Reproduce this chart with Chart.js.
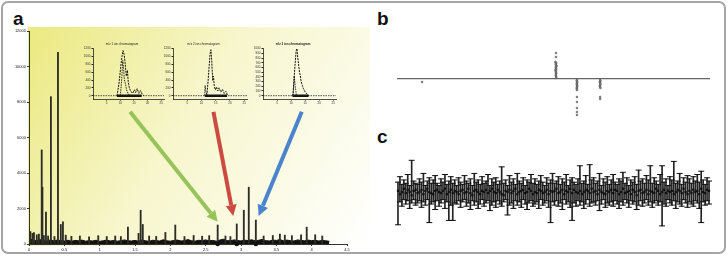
<!DOCTYPE html>
<html>
<head>
<meta charset="utf-8">
<script src="https://cdn.jsdelivr.net/npm/chart.js@4.4.0/dist/chart.umd.min.js"></script>
<style>
  html, body { margin: 0; padding: 0; background: #fff; }
  body { width: 728px; height: 256px; position: relative; overflow: hidden; font-family: 'Liberation Sans', Arial, sans-serif; }
  .frame { position: absolute; left: 1px; top: 1px; width: 721px; height: 249px; border: 2px solid #a5a5a5; border-radius: 7px; }
  .lbl { position: absolute; font-weight: bold; font-size: 19px; line-height: 1; color: #111; }
  canvas { position: absolute; }
</style>
</head>
<body>
<div class="frame"></div>
<div class="lbl" style="left:13px;top:9px">a</div>
<div class="lbl" style="left:377px;top:9px">b</div>
<div class="lbl" style="left:377px;top:127px">c</div>
<canvas id="spec" width="380" height="231" style="left:0;top:25px"></canvas>
<canvas id="in1" width="90" height="69" style="left:80px;top:38px"></canvas>
<canvas id="in2" width="93" height="69" style="left:160px;top:38px"></canvas>
<canvas id="in3" width="92" height="69" style="left:250px;top:38px"></canvas>
<canvas id="panelB" width="340" height="100" style="left:380px;top:30px"></canvas>
<canvas id="panelC" width="340" height="112" style="left:380px;top:135px"></canvas>
<script>
Chart.defaults.font.family = "'Liberation Sans', Arial, sans-serif";
Chart.defaults.animation = false;

// ---- panel a: spectrum ----
const specXTicks = [0, 0.5, 1, 1.5, 2, 2.5, 3, 3.5, 4, 4.5];
const specYTicks = [0, 2000, 4000, 6000, 8000, 10000, 12000];
const spikeX = [0, 0.02, 0.05, 0.07, 0.11, 0.14, 0.18, 0.19, 0.21, 0.24, 0.27, 0.31, 0.36, 0.41, 0.45, 0.48, 0.52, 0.6, 0.72, 0.85, 0.98, 1.1, 1.22, 1.3, 1.4, 1.55, 1.58, 1.61, 1.7, 1.8, 1.93, 2.07, 2.2, 2.33, 2.45, 2.55, 2.67, 2.78, 2.85, 2.94, 3.04, 3.11, 3.21, 3.32, 3.45, 3.55, 3.62, 3.72, 3.85, 3.93, 4.05, 4.15];
const spikeY = [960, 700, 600, 650, 520, 560, 5300, 3200, 480, 1800, 450, 8300, 420, 10800, 1100, 1250, 500, 430, 450, 400, 470, 420, 450, 420, 950, 600, 1900, 1100, 450, 430, 650, 1070, 420, 480, 440, 470, 1070, 450, 420, 1130, 1900, 3200, 1350, 450, 480, 560, 500, 470, 520, 950, 520, 450];
const noiseStep = 0.05;
const noiseY = [330, 220, 180, 250, 200, 160, 230, 180, 220, 190,
                170, 210, 150, 200, 180, 220, 160, 190, 170, 210,
                150, 180, 220, 170, 200, 160, 190, 230, 180, 170,
                200, 160, 220, 180, 150, 210, 190, 170, 240, 180,
                160, 200, 220, 170, 190, 250, 180, 160, 210, 190,
                230, 180, 200, 160, 220, 270, 190, 180, 230, 200,
                170, 220, 190, 240, 180, 210, 260, 190, 170, 220,
                200, 250, 180, 220, 190, 170, 230, 200, 180, 220,
                190, 210, 170, 200, 180, 150];
const markX = [2.67, 2.94, 3.21];
const arrowFromX = [1.43, 2.61, 3.86];
const arrowFromY = [7450, 7450, 7450];
const arrowToX = [2.67, 2.89, 3.25];
const arrowToY = [1250, 1580, 1580];
const arrowColors = ['#97c45a', '#cc4a40', '#4a84cc'];

// ---- insets ----
const insetXTicks = [500, 1000, 1500, 2000, 2500];
const inset1YTicks = [0, 200, 400, 600, 800, 1000, 1200];
const inset2YTicks = [0, 200, 400, 600, 800, 1000, 1200];
const inset3YTicks = [0, 100, 200, 300, 400, 500, 600, 700, 800, 900, 1000];
const in1X = [880, 950, 1010, 1060, 1100, 1140, 1180, 1220, 1260, 1290, 1330, 1380, 1450, 1520, 1560, 1620, 1680, 1740, 1800, 1860];
const in1Y = [0, 300, 700, 1000, 1150, 1050, 800, 500, 650, 350, 200, 120, 60, 150, 80, 180, 60, 130, 40, 0];
const in1bX = [1000, 1050, 1090, 1120, 1150, 1190, 1230, 1280, 1340];
const in1bY = [0, 400, 900, 700, 400, 300, 150, 60, 0];
const in1Base = [880, 1780];
const in2X = [1190, 1230, 1270, 1300, 1330, 1360, 1380, 1400, 1420, 1450, 1490, 1530, 1570, 1620, 1680, 1740, 1800, 1860, 1920];
const in2Y = [0, 350, 750, 1050, 1170, 900, 600, 380, 500, 250, 150, 220, 120, 200, 90, 160, 60, 110, 0];
const in2bX = [1110, 1130, 1160, 1200];
const in2bY = [0, 260, 100, 0];
const in2Base = [1120, 1900];
const in3X = [1060, 1100, 1140, 1180, 1210, 1240, 1270, 1300, 1330, 1360, 1400, 1440, 1480, 1530, 1580, 1620];
const in3Y = [0, 300, 650, 950, 1000, 800, 650, 500, 420, 300, 220, 150, 100, 60, 30, 0];
const in3bX = [1080, 1110, 1150, 1190];
const in3bY = [0, 420, 200, 0];
const in3Base = [1050, 1620];

// ---- panel b ----
const bX = [50.8, 50.8, 50.6, 50.9, 50.7, 50.8, 51.0, 50.7, 50.8, 50.9, 50.6, 50.8, 50.7, 50.9, 50.8, 50.7, 50.8, 50.9, 50.8,
            57.5, 57.4, 57.6, 57.5, 57.4, 57.5, 57.6, 57.5, 57.4, 57.5, 57.5, 57.5, 57.5, 57.5, 57.5, 57.5,
            64.9, 65.0, 64.8, 64.9, 65.0, 64.9, 64.8, 64.9, 65.0, 64.9, 64.9,
            8.0];
const bY = [26, 22, 17, 16, 15, 14, 13, 12, 11, 10, 9, 8, 7, 6, 5, 4, 3, 2, 1,
            -1, -2, -3, -4, -5, -6, -7, -8, -9, -10, -11, -18, -23, -29, -33, -36,
            -1, -2, -3, -4, -5, -6, -7, -8, -9, -18, -20,
            -3];

// ---- panel c: error bars ----
const cMid = [1, -2, 0, 3, -1, 2, 0, -3, 1, 2,
              -1, 0, 2, -2, 1, 3, 0, -1, -2, 1,
              2, 0, -1, 1, 3, -2, 0, 2, -1, 1,
              0, -2, 1, 2, -1, 0, 3, -1, -3, 1,
              2, 0, -2, 1, 0, 2, -1, 1, 3, 0,
              -1, 2, 0, -2, -3, 1, 0, 2, -1, 1,
              3, -2, 0, 1, 2, -1, 0, 3, 1, -2,
              0, -1, 2, 1, -1, 0, 2, -2, 1, 0,
              1, 3, -1, 0, 2, -2, 1, 0, 3, -1,
              2, 0, -1, 1, -2, 0, 2, 1, -1, 3,
              0, 1, -2, 2, 0, -1, -2, 1, 0, 2,
              -1, 2, 1, -2, 0, 3, -1, 0, 1, -2,
              2, 0, -3, 1, 2, -1, 0, 2, -2, 1,
              0, -1, 3, 1, -2, 0, 2, -1, 1, 0,
              1, -2, 0, 2, 1, -1, 3, 0, -2, 1,
              -1, 2, 0, 1, -2, 3, 0, -1, 2, 1];
const cHigh = [9, 14, 7, 11, 8, 16, 6, 29, 10, 8,
               7, 12, 9, 17, 6, 10, 13, 8, 11, 15,
               8, 6, 12, 9, 16, 7, 10, 14, 8, 11,
               6, 13, 9, 7, 15, 10, 8, 12, 6, 17,
               9, 11, 7, 14, 8, 10, 16, 6, 12, 9,
               13, 7, 10, 23, 8, 11, 6, 15, 9, 12,
               7, 17, 10, 8, 13, 6, 11, 9, 16, 8,
               12, 7, 10, 15, 9, 6, 13, 8, 11, 17,
               8, 10, 14, 7, 12, 9, 16, 6, 11, 13,
               9, 7, 12, 24, 8, 10, 15, 7, 25, 11,
               13, 8, 10, 17, 6, 12, 9, 14, 7, 11,
               16, 9, 7, 12, 10, 18, 8, 13, 6, 11,
               9, 14, 7, 20, 10, 12, 8, 15, 11, 24,
               8, 13, 10, 7, 16, 24, 9, 12, 6, 14,
               11, 28, 8, 10, 17, 7, 13, 9, 15, 12,
               8, 14, 10, 16, 9, 19, 11, 7, 13, 10];
const cLow = [-30, -9, -13, -7, -11, -8, -15, -10, -7, -12,
              -10, -8, -14, -9, -12, -7, -28, -11, -9, -16,
              -8, -13, -10, -7, -15, -9, -26, -12, -26, -10,
              -11, -8, -14, -9, -7, -13, -10, -16, -8, -12,
              -9, -15, -11, -7, -13, -10, -8, -17, -12, -9,
              -14, -8, -11, -13, -9, -7, -21, -12, -10, -15,
              -8, -12, -9, -14, -7, -11, -16, -10, -8, -13,
              -11, -9, -15, -7, -12, -10, -8, -14, -28, -9,
              -12, -8, -13, -10, -16, -7, -11, -9, -14, -26,
              -10, -13, -8, -12, -9, -15, -11, -7, -13, -10,
              -9, -12, -8, -17, -11, -7, -14, -10, -12, -9,
              -13, -8, -11, -15, -9, -12, -7, -10, -14, -8,
              -11, -9, -16, -12, -8, -13, -10, -7, -12, -9,
              -14, -10, -8, -12, -9, -31, -11, -13, -7, -10,
              -12, -8, -15, -9, -11, -13, -7, -10, -14, -9,
              -11, -13, -8, -10, -15, -28, -9, -12, -8, -11];

const setTicks = list => s => { s.ticks = list.map(v => ({ value: v })); };

function drawArrow(ctx, x1, y1, x2, y2, color) {
  const a = Math.atan2(y2 - y1, x2 - x1), head = 11, half = 5.5;
  const bx = x2 - head * Math.cos(a), by = y2 - head * Math.sin(a);
  ctx.strokeStyle = color; ctx.lineWidth = 4;
  ctx.beginPath(); ctx.moveTo(x1, y1); ctx.lineTo(bx, by); ctx.stroke();
  ctx.fillStyle = color;
  ctx.beginPath(); ctx.moveTo(x2, y2);
  ctx.lineTo(bx + half * Math.sin(a), by - half * Math.cos(a));
  ctx.lineTo(bx - half * Math.sin(a), by + half * Math.cos(a));
  ctx.closePath(); ctx.fill();
}

const yellowBg = {
  id: 'yellowBg',
  beforeDraw(c) {
    const { ctx, chartArea: a } = c;
    const g = ctx.createLinearGradient(a.left - 1, a.top - 4, a.right + 23, a.bottom + 2);
    g.addColorStop(0, '#ebe97f');
    g.addColorStop(0.45, '#f7f6cc');
    g.addColorStop(1, '#ffffff');
    ctx.save();
    ctx.fillStyle = g;
    ctx.fillRect(a.left - 1, a.top - 4, a.right - a.left + 24, a.bottom - a.top + 6);
    ctx.restore();
  }
};

const arrows = {
  id: 'arrows',
  afterDatasetsDraw(c) {
    const { ctx, scales: { x, y } } = c;
    ctx.save();
    arrowFromX.forEach((fx, i) => {
      drawArrow(ctx, x.getPixelForValue(fx), y.getPixelForValue(arrowFromY[i]),
                x.getPixelForValue(arrowToX[i]), y.getPixelForValue(arrowToY[i]), arrowColors[i]);
    });
    ctx.restore();
  }
};

new Chart(document.getElementById('spec'), {
  type: 'bar',
  data: {
    datasets: [
      { type: 'scatter', data: markX.map(x => ({ x, y: 0 })), pointStyle: 'circle', pointRadius: 2.3,
        backgroundColor: '#111', borderWidth: 0, clip: false, order: 0 },
      { type: 'bar', data: spikeX.map((x, i) => ({ x, y: spikeY[i] })), backgroundColor: '#2e2e28',
        barThickness: 1.2, order: 1 },
      { type: 'line', data: noiseY.map((y, i) => ({ x: i * noiseStep, y })), fill: 'origin',
        backgroundColor: '#111', borderColor: '#111', borderWidth: 1, pointRadius: 0, tension: 0, order: 2 }
    ]
  },
  options: {
    responsive: false,
    layout: { padding: { top: 6, right: 33, left: 0, bottom: 0 } },
    plugins: { legend: { display: false }, tooltip: { enabled: false } },
    scales: {
      x: {
        type: 'linear', min: 0, max: 4.5, offset: false, afterBuildTicks: setTicks(specXTicks),
        afterFit: s => { s.height = 12; },
        grid: { display: true, drawOnChartArea: false, offset: false, tickLength: 2, color: '#333' },
        border: { color: '#333', width: 1 },
        ticks: { font: { size: 4 }, color: '#222', padding: 1, maxRotation: 0, autoSkip: false, callback: v => String(v) }
      },
      y: {
        min: 0, max: 12000, afterBuildTicks: setTicks(specYTicks),
        afterFit: s => { s.width = 29; },
        grid: { display: true, drawOnChartArea: false, tickLength: 2, color: '#333' },
        border: { color: '#333', width: 1 },
        ticks: { font: { size: 4 }, color: '#222', padding: 1, autoSkip: false, callback: v => String(v) }
      }
    }
  },
  plugins: [yellowBg, arrows]
});

function inset(id, title, mainX, mainY, innerX, innerY, base, yTicks, bold) {
  const pts = (xs, ys) => xs.map((x, i) => ({ x, y: ys[i] }));
  const yMax = yTicks[yTicks.length - 1];
  new Chart(document.getElementById(id), {
    type: 'line',
    data: {
      datasets: [
        { data: [{ x: 0, y: 0 }, { x: 2600, y: 0 }], borderColor: '#222', borderWidth: 0.8, borderDash: [1.5, 1], pointRadius: 0 },
        { data: base.map(x => ({ x, y: 0 })), borderColor: '#111', borderWidth: 2.5, pointRadius: 0 },
        { data: pts(mainX, mainY), borderColor: '#111', borderWidth: 1, borderDash: [2, 1], pointRadius: 0, tension: 0 },
        { data: pts(innerX, innerY), borderColor: '#111', borderWidth: 0.9, borderDash: [1.5, 1], pointRadius: 0, tension: 0 }
      ]
    },
    options: {
      responsive: false,
      layout: { padding: { right: 6 } },
      plugins: {
        legend: { display: false }, tooltip: { enabled: false },
        title: { display: true, text: title, color: '#222', font: { size: 3, weight: bold ? 'bold' : 'normal' }, padding: { top: 4, bottom: 3 } }
      },
      scales: {
        x: {
          type: 'linear', min: 0, max: 2600, afterBuildTicks: setTicks(insetXTicks),
          afterFit: s => { s.height = 8; },
          grid: { display: true, drawOnChartArea: false, tickLength: 1.5, color: '#222' },
          border: { color: '#222', width: 0.8 },
          ticks: { font: { size: 3 }, color: '#333', padding: 1, maxRotation: 0, autoSkip: false, callback: v => String(v / 100) }
        },
        y: {
          min: -yMax * 0.07, max: yMax, afterBuildTicks: setTicks(yTicks),
          afterFit: s => { s.width = 13; },
          grid: { display: true, drawOnChartArea: false, tickLength: 1.5, color: '#222' },
          border: { color: '#222', width: 0.8 },
          ticks: { font: { size: 3 }, color: '#333', padding: 1, autoSkip: false, callback: v => String(v) }
        }
      }
    }
  });
}

inset('in1', 'm/z 1 ion chromatogram', in1X, in1Y, in1bX, in1bY, in1Base, inset1YTicks, false);
inset('in2', 'm/z 2 ion chromatogram', in2X, in2Y, in2bX, in2bY, in2Base, inset2YTicks, false);
inset('in3', 'm/z 3 ion chromatogram', in3X, in3Y, in3bX, in3bY, in3Base, inset3YTicks, true);

new Chart(document.getElementById('panelB'), {
  type: 'scatter',
  data: {
    datasets: [{ data: bX.map((x, i) => ({ x, y: bY[i] })), pointRadius: 0.9, borderWidth: 0.6,
                 borderColor: '#444', backgroundColor: '#aaa' }]
  },
  options: {
    responsive: false,
    layout: { padding: { left: 17, right: 10, top: 9, bottom: 11 } },
    plugins: { legend: { display: false }, tooltip: { enabled: false } },
    scales: {
      x: { type: 'linear', min: 0, max: 100, display: false },
      y: {
        min: -40, max: 40, afterFit: s => { s.width = 0; },
        ticks: { display: false, stepSize: 10 },
        border: { display: false },
        grid: { drawTicks: false, lineWidth: 1.2, color: ctx => ctx.tick.value === 0 ? '#666' : 'transparent' }
      }
    }
  }
});

new Chart(document.getElementById('panelC'), {
  type: 'bar',
  data: {
    labels: cMid.map((_, i) => i + 1),
    datasets: [
      { type: 'line', data: cMid, showLine: false, pointStyle: 'rect', pointRadius: 1.6,
        backgroundColor: '#111', borderColor: '#111', borderWidth: 0, order: 0 },
      { type: 'line', data: cHigh, showLine: false, pointStyle: 'line', pointRadius: 3,
        borderColor: '#111', borderWidth: 1, order: 1 },
      { type: 'line', data: cLow, showLine: false, pointStyle: 'line', pointRadius: 3,
        borderColor: '#111', borderWidth: 1, order: 1 },
      { type: 'bar', data: cLow.map((lo, i) => [lo, cHigh[i]]), backgroundColor: '#222',
        barThickness: 1, order: 2 }
    ]
  },
  options: {
    responsive: false,
    layout: { padding: { left: 17, right: 10, top: 10, bottom: 8 } },
    plugins: { legend: { display: false }, tooltip: { enabled: false } },
    scales: {
      x: { display: false },
      y: { display: false, min: -43, max: 43 }
    }
  }
});
</script>
</body>
</html>
